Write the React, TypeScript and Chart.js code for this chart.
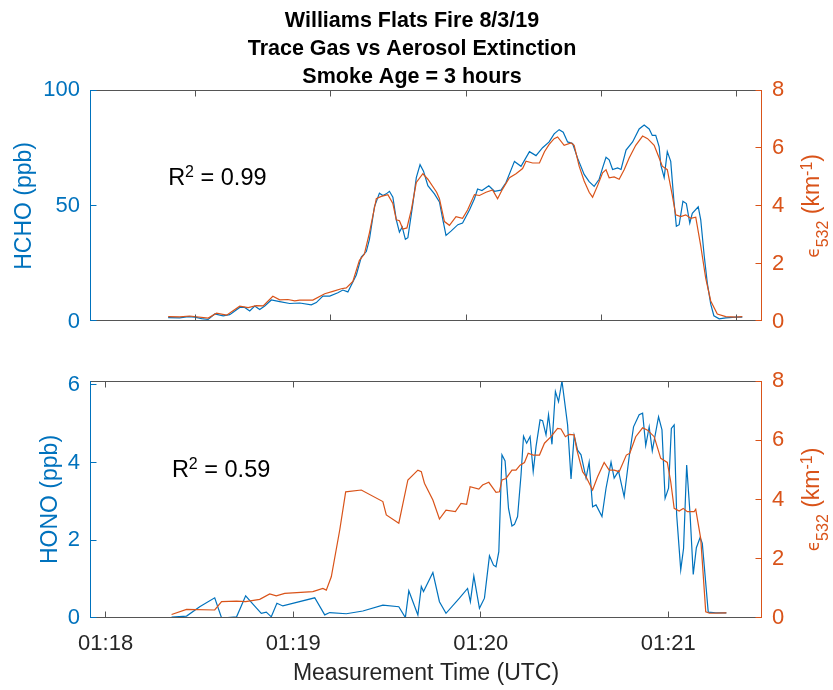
import React, { useEffect, useRef } from 'react';
import { Chart, registerables } from 'chart.js';

Chart.register(...registerables);

// ---------- data ----------
const titleLines = ['Williams Flats Fire 8/3/19', 'Trace Gas vs Aerosol Extinction', 'Smoke Age = 3 hours'];

// seconds after 01:18:00 UTC
const xTickValues = [0, 60, 120, 180];
const xTickLabels = ['01:18', '01:19', '01:20', '01:21'];
const topXTicks = [28.8, 72.1, 115.5, 158.5, 201.7];

const hchoYTicks = [0, 50, 100];
const honoYTicks = [0, 2, 4, 6];
const extYTicks = [0, 2, 4, 6, 8];

const topHchoTime = [20.0, 23.7, 26.4, 28.5, 30.7, 32.8, 34.9, 37.6, 39.7, 42.9,
  44.5, 46.1, 47.7, 49.3, 50.9, 53.0, 55.7, 58.9, 62.1, 65.8,
  67.4, 69.5, 71.7, 74.3, 75.9, 77.5, 80.2, 81.8, 83.4, 84.4,
  86.0, 87.6, 88.7, 89.8, 90.8, 91.9, 93.0, 94.0, 94.9, 95.9,
  96.7, 98.3, 99.4, 100.6, 101.7, 103.1, 105.2, 106.8, 107.9, 108.9,
  110.5, 112.7, 114.2, 116.4, 118.0, 119.0, 120.4, 122.6, 124.4, 126.5,
  128.1, 130.8, 132.9, 135.6, 137.7, 139.8, 141.9, 143.5, 145.1, 146.4,
  147.8, 149.4, 151.0, 153.1, 154.7, 156.3, 157.9, 159.0, 160.1, 161.1,
  162.2, 163.8, 164.9, 166.5, 168.6, 170.7, 172.3, 173.9, 174.9, 176.0,
  177.1, 177.6, 178.7, 179.7, 180.8, 181.8, 182.6, 183.5, 184.7, 185.8,
  186.9, 187.7, 189.6, 190.4, 191.5, 192.5, 193.6, 194.6, 196.3, 198.4,
  201.6, 203.7];
const topHcho = [1.8, 1.7, 2.2, 2.0, 1.4, 1.0, 3.4, 2.6, 3.1, 6.2,
  6.2, 4.7, 6.8, 5.3, 6.8, 9.4, 8.7, 7.9, 8.1, 7.3,
  8.3, 11.1, 11.1, 12.5, 13.7, 12.9, 20.2, 27.9, 30.3, 35.6,
  49.6, 55.5, 54.5, 55.2, 56.3, 53.8, 44.0, 38.7, 40.9, 35.6,
  36.3, 51.0, 62.2, 67.8, 65.0, 58.7, 55.2, 51.7, 44.0, 37.3,
  39.1, 41.9, 42.6, 48.2, 53.1, 57.3, 56.6, 58.7, 56.3, 56.8,
  60.1, 69.2, 67.1, 73.4, 71.7, 75.1, 77.6, 81.1, 82.9, 81.8,
  77.6, 76.9, 70.6, 63.6, 60.5, 58.4, 61.5, 66.4, 71.0, 69.9,
  65.7, 66.4, 65.7, 74.1, 77.6, 83.2, 84.9, 83.2, 80.4, 80.4,
  75.5, 67.8, 62.2, 73.4, 69.2, 52.4, 41.2, 41.9, 52.0, 51.0,
  42.6, 46.8, 49.6, 44.0, 28.6, 16.7, 7.6, 2.6, 1.3, 1.7,
  2.0, 2.0];

const topExtTime = [20.0, 23.7, 26.9, 32.8, 35.5, 38.7, 42.9, 45.6, 48.2, 50.4,
  53.5, 55.7, 58.3, 60.5, 62.1, 66.3, 70.1, 72.7, 75.4, 77.0,
  79.1, 81.2, 82.8, 84.4, 86.6, 88.2, 90.3, 91.9, 93.0, 94.0,
  95.1, 96.4, 97.8, 99.4, 101.5, 103.1, 105.9, 106.8, 108.4, 110.0,
  112.1, 114.2, 115.8, 118.0, 119.6, 121.7, 123.8, 125.4, 127.0, 129.2,
  131.3, 133.4, 134.5, 136.6, 138.8, 140.4, 141.9, 143.5, 144.6, 146.7,
  148.9, 149.9, 151.5, 153.1, 154.7, 155.8, 157.4, 159.0, 160.1, 161.1,
  162.7, 164.3, 165.9, 167.5, 169.6, 171.8, 173.4, 175.5, 177.1, 178.1,
  179.7, 181.3, 182.4, 184.0, 185.6, 187.2, 188.8, 190.4, 192.0, 193.6,
  195.7, 198.4, 201.6, 203.7];
const topExt = [0.18, 0.17, 0.20, 0.13, 0.30, 0.23, 0.54, 0.49, 0.56, 0.55,
  0.88, 0.76, 0.77, 0.72, 0.75, 0.75, 0.97, 1.05, 1.14, 1.17,
  1.39, 2.12, 2.34, 3.07, 4.25, 4.33, 4.39, 4.08, 3.52, 3.49,
  3.20, 3.24, 3.86, 4.81, 5.11, 4.92, 4.47, 4.25, 3.46, 3.33,
  3.63, 3.57, 3.86, 4.39, 4.36, 4.47, 4.55, 4.25, 4.58, 4.97,
  5.11, 5.29, 5.54, 5.48, 5.48, 5.87, 6.12, 6.32, 6.38, 6.09,
  6.17, 6.09, 5.37, 4.86, 4.47, 4.30, 4.70, 5.14, 5.25, 4.97,
  5.00, 4.92, 5.25, 5.65, 6.09, 6.41, 6.32, 6.09, 5.65, 5.37,
  5.25, 4.36, 3.69, 3.63, 3.69, 3.57, 3.61, 2.62, 1.50, 0.72,
  0.27, 0.18, 0.16, 0.18];

const honoTime = [21.1, 25.9, 30.1, 34.9, 37.1, 41.9, 44.8, 47.2, 49.8, 51.4,
  53.0, 54.8, 56.7, 66.9, 70.1, 71.7, 77.0, 82.3, 88.7, 93.8,
  95.9, 97.0, 99.9, 101.0, 101.7, 104.7, 106.8, 108.9, 113.2, 115.8,
  116.7, 117.8, 119.6, 121.2, 122.8, 124.1, 124.9, 125.8, 126.8, 127.8,
  128.9, 130.0, 130.8, 131.8, 132.9, 133.7, 134.7, 135.8, 136.8, 137.7,
  139.0, 139.8, 140.9, 141.7, 142.8, 143.9, 144.9, 146.0, 147.8, 148.9,
  149.9, 151.0, 152.1, 153.7, 154.7, 155.8, 156.9, 158.8, 160.1, 161.7,
  162.7, 164.1, 165.9, 167.5, 168.9, 170.7, 171.8, 172.8, 173.9, 174.9,
  176.9, 178.0, 179.0, 180.1, 181.0, 181.9, 182.7, 184.0, 184.9, 185.9,
  187.0, 188.0, 189.0, 190.2, 190.9, 192.8, 195.2, 198.6];
const hono = [0.02, 0.05, 0.29, 0.52, 0.00, 0.03, 0.57, 0.35, 0.12, 0.15,
  0.03, 0.38, 0.31, 0.52, 0.08, 0.14, 0.11, 0.18, 0.33, 0.29,
  0.01, 0.70, 0.08, 0.81, 0.68, 1.17, 0.42, 0.12, 0.51, 0.76,
  0.42, 1.08, 0.25, 0.51, 1.60, 1.36, 1.32, 1.71, 4.20, 4.04,
  2.82, 2.37, 2.41, 2.61, 3.68, 4.68, 4.50, 4.67, 3.77, 4.41,
  5.10, 5.08, 4.71, 5.23, 4.47, 5.83, 5.57, 6.10, 4.97, 3.58,
  4.69, 4.32, 4.20, 3.60, 4.01, 2.86, 2.91, 2.61, 3.34, 4.01,
  3.60, 3.78, 3.12, 4.15, 4.92, 5.23, 5.27, 4.44, 4.92, 4.30,
  5.18, 4.84, 3.08, 3.34, 4.88, 4.97, 2.65, 1.24, 1.79, 3.94,
  2.65, 1.12, 1.81, 2.07, 1.92, 0.15, 0.13, 0.13];

const botExtTime = [21.1, 25.9, 34.9, 37.1, 41.9, 44.8, 49.3, 52.5, 54.6, 57.3,
  66.3, 69.5, 70.6, 72.2, 74.9, 76.8, 81.8, 88.7, 89.8, 93.8,
  96.7, 99.9, 101.0, 102.0, 104.7, 106.8, 108.9, 111.9, 113.7, 115.5,
  116.6, 119.4, 120.6, 122.6, 124.9, 126.0, 126.8, 128.1, 130.0, 131.3,
  132.6, 134.0, 135.2, 136.8, 138.8, 140.4, 142.5, 144.6, 145.7, 147.1,
  148.3, 149.9, 150.7, 152.6, 153.7, 155.8, 157.4, 159.5, 161.1, 162.7,
  164.3, 166.6, 167.7, 169.6, 171.8, 173.4, 175.5, 177.6, 179.7, 180.8,
  181.9, 183.5, 184.8, 186.1, 188.3, 188.8, 190.4, 192.0, 193.2, 198.6];
const botExt = [0.12, 0.29, 0.27, 0.55, 0.57, 0.55, 0.63, 0.81, 0.75, 0.83,
  0.89, 1.00, 0.94, 1.39, 2.97, 4.26, 4.32, 3.93, 3.48, 3.20,
  4.66, 4.99, 4.94, 4.55, 3.98, 3.34, 3.64, 3.59, 3.87, 3.84,
  4.43, 4.35, 4.49, 4.58, 4.24, 4.26, 4.66, 4.71, 4.99, 4.99,
  5.16, 5.25, 5.56, 5.50, 5.50, 5.90, 6.12, 6.40, 6.38, 6.12,
  6.20, 6.18, 5.70, 4.94, 4.77, 4.32, 4.77, 5.25, 4.99, 4.99,
  4.94, 5.50, 5.56, 6.12, 6.42, 6.34, 6.12, 5.39, 5.25, 4.60,
  3.70, 3.61, 3.70, 3.59, 3.59, 3.67, 2.68, 0.21, 0.16, 0.17];

const r2Top = '0.99';
const r2Bot = '0.59';

// ---------- styling ----------
const BLUE = '#0072BD';
const ORANGE = '#D95319';
const AXIS_GRAY = '#555555';
const TEXT_DARK = '#262626';
const FONT = '"Liberation Sans", Arial, Helvetica, "DejaVu Sans", sans-serif';
const SYM_FONT = '"DejaVu Sans", "Liberation Sans", sans-serif';
const TICK_SIZE = 22;
const LABEL_SIZE = 23;
const W = 833;
const H_TOP = 345;
const H_BOT = 345;

Chart.defaults.font.family = FONT;

type Part = { t: string; s: number; dy: number; bold?: boolean; fam?: string };

function drawRich(ctx: CanvasRenderingContext2D, parts: Part[], x: number, y: number, align: 'left' | 'center') {
  let total = 0;
  const fontOf = (p: Part) => `${p.bold ? 'bold ' : ''}${p.s}px ${p.fam || FONT}`;
  const widths = parts.map((p) => {
    ctx.font = fontOf(p);
    const w = ctx.measureText(p.t).width;
    total += w;
    return w;
  });
  let cx = align === 'center' ? x - total / 2 : x;
  ctx.textAlign = 'left';
  ctx.textBaseline = 'alphabetic';
  parts.forEach((p, i) => {
    ctx.font = fontOf(p);
    ctx.fillText(p.t, cx, y + p.dy);
    cx += widths[i];
  });
}

const framePlugin = {
  id: 'frame',
  afterDatasetsDraw(chart: any, _args: any, opts: any) {
    const { ctx, chartArea: a, scales } = chart;
    const crisp = (v: number) => Math.floor(v) + 0.5;
    const L = crisp(a.left);
    const R = crisp(a.right - 1);
    const T = crisp(a.top);
    const B = crisp(a.bottom - 1);
    const tl = 6;
    ctx.save();
    ctx.lineWidth = 1;
    ctx.strokeStyle = AXIS_GRAY;
    ctx.beginPath();
    ctx.moveTo(L, T); ctx.lineTo(R, T);
    ctx.moveTo(L, B); ctx.lineTo(R, B);
    for (const v of opts.xTicks as number[]) {
      const px = crisp(scales.x.getPixelForValue(v));
      ctx.moveTo(px, B); ctx.lineTo(px, B - tl);
      ctx.moveTo(px, T); ctx.lineTo(px, T + tl);
    }
    ctx.stroke();
    ctx.strokeStyle = BLUE;
    ctx.beginPath();
    ctx.moveTo(L, T - 0.5); ctx.lineTo(L, B + 0.5);
    for (const v of opts.yLTicks as number[]) {
      const py = Math.min(B, Math.max(T, crisp(scales.yL.getPixelForValue(v))));
      ctx.moveTo(L, py); ctx.lineTo(L + tl, py);
    }
    ctx.stroke();
    ctx.strokeStyle = ORANGE;
    ctx.beginPath();
    ctx.moveTo(R, T - 0.5); ctx.lineTo(R, B + 0.5);
    for (const v of opts.yRTicks as number[]) {
      const py = Math.min(B, Math.max(T, crisp(scales.yR.getPixelForValue(v))));
      ctx.moveTo(R, py); ctx.lineTo(R - tl, py);
    }
    ctx.stroke();
    ctx.restore();
  },
};

const textPlugin = {
  id: 'texts',
  afterDraw(chart: any, _args: any, opts: any) {
    const { ctx, chartArea: a, scales } = chart;
    ctx.save();
    if (opts.title) {
      ctx.fillStyle = '#000000';
      (opts.title as string[]).forEach((line, i) => {
        drawRich(ctx, [{ t: line, s: 21.5, dy: 0, bold: true }], opts.titleX, opts.titleY + i * opts.titleStep, 'center');
      });
    }
    // R^2 annotation anchored in data space
    ctx.fillStyle = '#000000';
    const ax = scales.x.getPixelForValue(opts.rx);
    const ay = scales.yL.getPixelForValue(opts.ry);
    drawRich(ctx, [
      { t: 'R', s: 23.5, dy: 0 },
      { t: '2', s: 16, dy: -8 },
      { t: ' = ' + opts.r2, s: 23.5, dy: 0 },
    ], ax, ay, 'left');

    const cy = (a.top + a.bottom) / 2;
    // left axis label
    ctx.save();
    ctx.translate(a.left - opts.leftOffset, cy);
    ctx.rotate(-Math.PI / 2);
    ctx.fillStyle = BLUE;
    drawRich(ctx, [{ t: opts.leftLabel, s: LABEL_SIZE, dy: 0 }], 0, 0, 'center');
    ctx.restore();
    // right axis label
    ctx.save();
    ctx.translate(a.right + 57, cy);
    ctx.rotate(-Math.PI / 2);
    ctx.fillStyle = ORANGE;
    drawRich(ctx, [
      { t: '\u03F5', s: 17, dy: 0, fam: SYM_FONT },
      { t: '532', s: 16, dy: 9 },
      { t: ' (km', s: LABEL_SIZE, dy: 0 },
      { t: '-1', s: 16, dy: -7 },
      { t: ')', s: LABEL_SIZE, dy: 0 },
    ], 0, 0, 'center');
    ctx.restore();
    if (opts.xLabel) {
      ctx.fillStyle = TEXT_DARK;
      drawRich(ctx, [{ t: opts.xLabel, s: LABEL_SIZE, dy: 0 }], (a.left + a.right) / 2, a.bottom + 62, 'center');
    }
    ctx.restore();
  },
};

function pts(xs: number[], ys: number[]) {
  return xs.map((x, i) => ({ x, y: ys[i] }));
}

function lineSet(label: string, xs: number[], ys: number[], color: string, axis: string, order: number) {
  return {
    label,
    data: pts(xs, ys),
    yAxisID: axis,
    borderColor: color,
    backgroundColor: color,
    borderWidth: 1.2,
    pointRadius: 0,
    tension: 0,
    fill: false,
    order,
  };
}

function yScale(pos: 'left' | 'right', min: number, max: number, ticks: number[], color: string, width: number) {
  return {
    type: 'linear',
    position: pos,
    min,
    max,
    afterBuildTicks: (s: any) => { s.ticks = ticks.map((v) => ({ value: v })); },
    afterFit: (s: any) => { s.width = width; },
    grid: { display: false, drawTicks: false },
    border: { display: false },
    ticks: { color, font: { size: TICK_SIZE, family: FONT }, padding: 10 },
  };
}

export default function App() {
  const topRef = useRef<HTMLCanvasElement>(null);
  const botRef = useRef<HTMLCanvasElement>(null);

  useEffect(() => {
    const common = {
      responsive: false,
      animation: false,
      devicePixelRatio: 1,
      events: [],
    };
    const top = new Chart(topRef.current as HTMLCanvasElement, {
      type: 'line',
      data: {
        datasets: [
          lineSet('HCHO', topHchoTime, topHcho, BLUE, 'yL', 2),
          lineSet('Extinction', topExtTime, topExt, ORANGE, 'yR', 1),
        ],
      },
      options: {
        ...common,
        layout: { padding: { top: 90, bottom: H_TOP - 328, left: 0, right: 0 } },
        scales: {
          x: { type: 'linear', min: -5, max: 210, display: false },
          yL: yScale('left', 0, 100, hchoYTicks, BLUE, 90),
          yR: yScale('right', 0, 8, extYTicks, ORANGE, W - 762),
        },
        plugins: {
          legend: { display: false },
          tooltip: { enabled: false },
          frame: { xTicks: topXTicks, yLTicks: hchoYTicks, yRTicks: extYTicks },
          texts: {
            title: titleLines, titleX: 412, titleY: 26.5, titleStep: 28.3,
            rx: 20, ry: 59, r2: r2Top,
            leftLabel: 'HCHO (ppb)', leftOffset: 59,
          },
        },
      } as any,
      plugins: [framePlugin, textPlugin],
    } as any);

    const bot = new Chart(botRef.current as HTMLCanvasElement, {
      type: 'line',
      data: {
        datasets: [
          lineSet('HONO', honoTime, hono, BLUE, 'yL', 2),
          lineSet('Extinction', botExtTime, botExt, ORANGE, 'yR', 1),
        ],
      },
      options: {
        ...common,
        layout: { padding: { top: 381 - H_TOP, bottom: 0, left: 0, right: 0 } },
        scales: {
          x: {
            type: 'linear',
            min: -5,
            max: 210,
            position: 'bottom',
            afterBuildTicks: (s: any) => { s.ticks = xTickValues.map((v) => ({ value: v })); },
            afterFit: (s: any) => { s.height = H_BOT - (618 - H_TOP); },
            grid: { display: false, drawTicks: false },
            border: { display: false },
            ticks: {
              color: TEXT_DARK,
              font: { size: TICK_SIZE, family: FONT },
              padding: 13,
              autoSkip: false,
              maxRotation: 0,
              minRotation: 0,
              callback: (v: any) => {
                const i = xTickValues.indexOf(Number(v));
                return i >= 0 ? xTickLabels[i] : '';
              },
            },
          },
          yL: yScale('left', 0, 6.1, honoYTicks, BLUE, 90),
          yR: yScale('right', 0, 8, extYTicks, ORANGE, W - 762),
        },
        plugins: {
          legend: { display: false },
          tooltip: { enabled: false },
          frame: { xTicks: xTickValues, yLTicks: honoYTicks, yRTicks: extYTicks },
          texts: {
            rx: 21.2, ry: 3.63, r2: r2Bot,
            leftLabel: 'HONO (ppb)', leftOffset: 33,
            xLabel: 'Measurement Time (UTC)',
          },
        },
      } as any,
      plugins: [framePlugin, textPlugin],
    } as any);

    return () => {
      top.destroy();
      bot.destroy();
    };
  }, []);

  return (
    <div style={{ position: 'absolute', left: 0, top: 0, width: W, height: H_TOP + H_BOT, background: '#ffffff' }}>
      <canvas ref={topRef} width={W} height={H_TOP} style={{ position: 'absolute', left: 0, top: 0, width: W, height: H_TOP, display: 'block' }} />
      <canvas ref={botRef} width={W} height={H_BOT} style={{ position: 'absolute', left: 0, top: H_TOP, width: W, height: H_BOT, display: 'block' }} />
    </div>
  );
}
